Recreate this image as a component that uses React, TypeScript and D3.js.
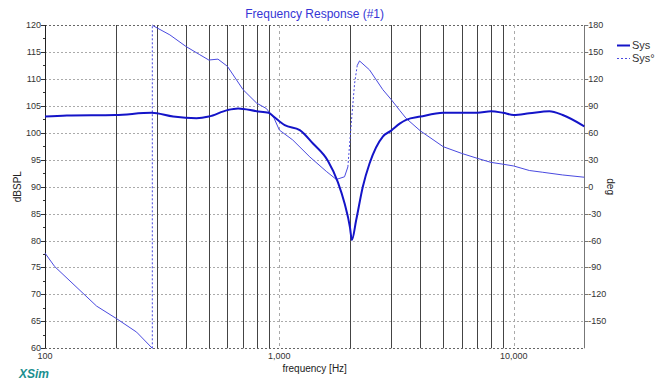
import React from "react";
import * as d3 from "d3";

const magFreq = [100, 124, 200, 285, 352, 443, 500, 600, 667, 800, 900, 939, 1054, 1222, 1391, 1610, 1778, 1897, 2000, 2039, 2127, 2270, 2425, 2763, 3000, 3260, 3475, 4000, 5000, 6000, 7000, 8000, 9000, 10000, 11650, 14190, 16180, 20000];
const magDb = [103.0, 103.2, 103.3, 103.7, 103.0, 102.7, 103.0, 104.2, 104.5, 104.0, 103.7, 103.1, 101.4, 100.5, 98.0, 94.8, 90.8, 86.9, 82.5, 80.1, 83.8, 90.0, 94.3, 99.3, 100.4, 101.7, 102.4, 103.0, 103.7, 103.7, 103.7, 104.0, 103.7, 103.3, 103.6, 104.0, 103.3, 101.2];

const phaseFreq = [100, 110, 166, 202, 246, 287, 287, 290, 341, 400, 457, 500, 547, 600, 700, 800, 880, 950, 1000, 1140, 1350, 1586, 1750, 1897, 1960, 1980, 2027, 2094, 2149, 2198, 2425, 2763, 3000, 3260, 3475, 4000, 5000, 6000, 7000, 8000, 9000, 10000, 11650, 13300, 16180, 20000];
const phaseDeg = [-74, -89, -133, -147, -162, -180, 180, 179, 169, 156, 147, 141, 142, 134, 108, 93, 87, 76, 63, 52, 33, 17, 8, 11, 22, 37, 71, 115, 135, 140, 130, 108, 97, 85, 76, 62, 44.5, 37, 31.5, 27, 25, 23, 18, 16, 13, 10.5];

const leftTicks = [60, 65, 70, 75, 80, 85, 90, 95, 100, 105, 110, 115, 120];
const rightTicks = [-150, -120, -90, -60, -30, 0, 30, 60, 90, 120, 150, 180];
const decadeTicks = [100, 1000, 10000];
const decadeLabels = ["100", "1,000", "10,000"];
const minorTicks = [200, 300, 400, 500, 600, 700, 800, 900, 2000, 3000, 4000, 5000, 6000, 7000, 8000, 9000];
const seriesNames = ["Sys", "Sys°"];

const W = 667, H = 385;
const L = 45, R = 584.3, T = 25, B = 348.3;
const FONT = "Arial, 'Liberation Sans', sans-serif";

export default function App() {
  const x = d3.scaleLog().domain([100, 20000]).range([L, R]);
  const y = d3.scaleLinear().domain([60, 120]).range([B, T]);
  const yr = d3.scaleLinear().domain([-180, 180]).range([B, T]);

  const magLine = d3.line<number>().x((_, i) => x(magFreq[i])).y((d) => y(d)).curve(d3.curveMonotoneX);
  const magPath = magLine(magDb) || "";

  // phase segments: steep parts dotted
  const segs: { pts: [number, number][]; dotted: boolean }[] = [];
  for (let i = 0; i < phaseFreq.length - 1; i++) {
    const dl = Math.log10(phaseFreq[i + 1]) - Math.log10(phaseFreq[i]);
    const dd = Math.abs(phaseDeg[i + 1] - phaseDeg[i]);
    const dotted = dl === 0 || dd / dl > 1000;
    const p0: [number, number] = [x(phaseFreq[i]), yr(phaseDeg[i])];
    const p1: [number, number] = [x(phaseFreq[i + 1]), yr(phaseDeg[i + 1])];
    const last = segs[segs.length - 1];
    if (last && last.dotted === dotted) last.pts.push(p1);
    else segs.push({ pts: [p0, p1], dotted });
  }
  const segLine = d3.line<[number, number]>().curve(d3.curveLinear);

  return (
    <svg width={W} height={H} style={{ position: "absolute", left: 0, top: 0, background: "#fff" }} fontFamily={FONT}>
      <rect x={0} y={0} width={W} height={H} fill="#fff" />
      {/* horizontal grid */}
      {leftTicks.map((t) => (
        <line key={"h" + t} x1={L} x2={R} y1={Math.round(y(t)) + 0.5} y2={Math.round(y(t)) + 0.5}
          stroke={t === 60 || t === 120 ? "#666" : "#aaa"} strokeDasharray="2,2" strokeWidth={1} />
      ))}
      {/* decade grid */}
      {decadeTicks.slice(1).map((t) => (
        <line key={"d" + t} x1={Math.round(x(t)) + 0.5} x2={Math.round(x(t)) + 0.5} y1={T} y2={B}
          stroke="#aaa" strokeDasharray="3,3" strokeWidth={1} />
      ))}
      {/* minor grid */}
      {minorTicks.map((t) => (
        <line key={"m" + t} x1={Math.round(x(t)) + 0.5} x2={Math.round(x(t)) + 0.5} y1={T} y2={B}
          stroke="#444" strokeWidth={1} />
      ))}
      {/* axes */}
      <line x1={L + 0.5} x2={L + 0.5} y1={T} y2={B} stroke="#222" strokeWidth={1} />
      <line x1={Math.round(R) + 0.5} x2={Math.round(R) + 0.5} y1={T} y2={B} stroke="#777" strokeWidth={1} />
      {leftTicks.map((t) => (
        <g key={"lt" + t}>
          <line x1={L - 4} x2={L} y1={Math.round(y(t)) + 0.5} y2={Math.round(y(t)) + 0.5} stroke="#333" />
          {t < 120 && <line x1={L - 2} x2={L} y1={Math.round(y(t + 2.5)) + 0.5} y2={Math.round(y(t + 2.5)) + 0.5} stroke="#333" />}
          <text x={L - 4} y={y(t) + 3} fontSize={9} fill="#333" textAnchor="end">{t}</text>
        </g>
      ))}
      {rightTicks.map((t) => (
        <g key={"rt" + t}>
          <line x1={R} x2={R + 4} y1={Math.round(yr(t)) + 0.5} y2={Math.round(yr(t)) + 0.5} stroke="#777" />
          <text x={R + 4} y={yr(t) + 3} fontSize={9} fill="#333" textAnchor="start">{t}</text>
        </g>
      ))}
      {decadeTicks.map((t, i) => (
        <text key={"xl" + t} x={x(t)} y={B + 11} fontSize={9} fill="#333" textAnchor="middle">{decadeLabels[i]}</text>
      ))}
      {/* series */}
      {segs.map((s, i) => (
        <path key={"ph" + i} d={segLine(s.pts) || ""} fill="none" stroke="#4a4ae0" strokeWidth={1}
          strokeDasharray={s.dotted ? "2,2" : undefined} />
      ))}
      <path d={magPath} fill="none" stroke="#1414c8" strokeWidth={2} />
      {/* titles */}
      <text x={(L + R) / 2} y={18} fontSize={12} fill="#3535d5" textAnchor="middle">Frequency Response (#1)</text>
      <text x={(L + R) / 2} y={372} fontSize={10} fill="#222" textAnchor="middle">frequency [Hz]</text>
      <text transform={`translate(21,${(T + B) / 2}) rotate(-90)`} fontSize={10} fill="#222" textAnchor="middle">dBSPL</text>
      <text transform={`translate(607,${(T + B) / 2}) rotate(90)`} fontSize={10} fill="#222" textAnchor="middle">deg</text>
      <text x={19} y={378} fontSize={12} fontWeight="bold" fontStyle="italic" fill="#1a8f8f">XSim</text>
      {/* legend */}
      <line x1={617} x2={630} y1={45.5} y2={45.5} stroke="#1414c8" strokeWidth={2} />
      <text x={632} y={49} fontSize={11} fill="#333">{seriesNames[0]}</text>
      <line x1={617} x2={630} y1={58.5} y2={58.5} stroke="#4a4ae0" strokeWidth={1} strokeDasharray="2,2" />
      <text x={632} y={62} fontSize={11} fill="#333">{seriesNames[1]}</text>
    </svg>
  );
}
